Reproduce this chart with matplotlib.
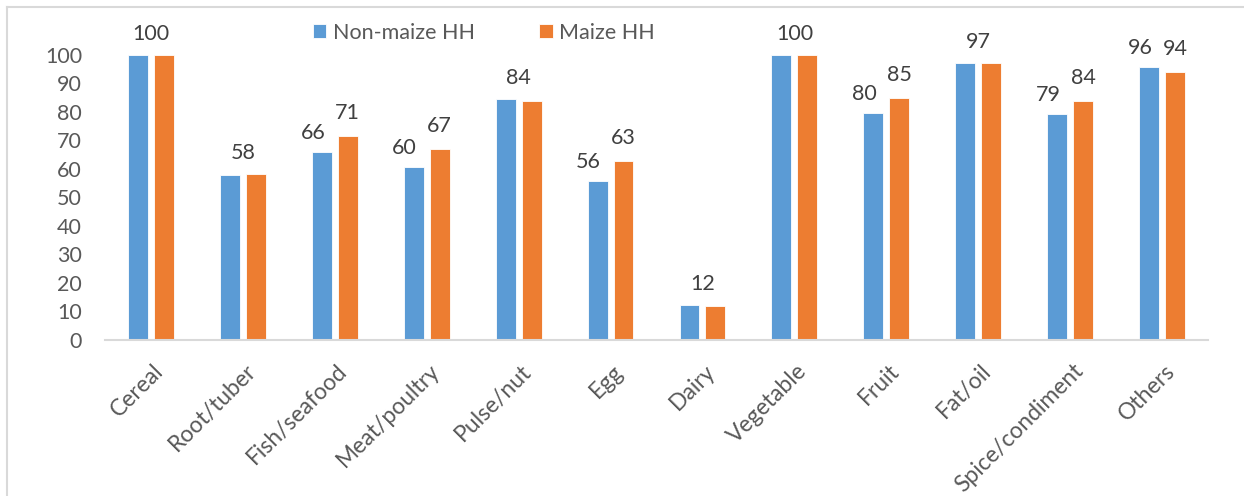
import numpy as np
import matplotlib
matplotlib.use("Agg")
import matplotlib.pyplot as plt
from matplotlib.lines import Line2D
from matplotlib.transforms import ScaledTranslation

plt.rcParams['font.family'] = ['Lato', 'DejaVu Sans']

categories = ["Cereal", "Root/tuber", "Fish/seafood", "Meat/poultry", "Pulse/nut", "Egg",
              "Dairy", "Vegetable", "Fruit", "Fat/oil", "Spice/condiment", "Others"]
non_maize = [100, 57.8, 65.9, 60.5, 84.4, 55.6, 12.1, 100, 79.5, 97.2, 79.2, 95.6]
maize = [100, 58.2, 71.4, 66.9, 83.9, 62.7, 11.9, 100, 84.9, 97.2, 83.7, 93.9]
series_names = ["Non-maize HH", "Maize HH"]
yticks = list(range(0, 101, 10))

BLUE = '#5B9BD5'
ORANGE = '#ED7D31'
TXT = '#595959'
LBL = '#404040'
FS = 15.5

W, H = 1244, 496
fig = plt.figure(figsize=(W / 100, H / 100), dpi=100)
ax = fig.add_axes([105 / W, 1 - 339.5 / H, (1208 - 105) / W, (339.5 - 54.7) / H])

x = np.arange(len(categories))
bw = 0.217
off = 0.141
b1 = ax.bar(x - off, non_maize, bw, color=BLUE, edgecolor='white', linewidth=0.6,
            clip_on=False, label=series_names[0])
b2 = ax.bar(x + off, maize, bw, color=ORANGE, edgecolor='white', linewidth=0.6,
            clip_on=False, label=series_names[1])

ax.set_xlim(-0.5, len(categories) - 0.5)
ax.set_ylim(0, 100)
ax.set_yticks(yticks)
ax.set_yticklabels([str(t) for t in yticks])
for s in ['top', 'right', 'left']:
    ax.spines[s].set_visible(False)
ax.spines['bottom'].set_color('#d9d9d9')
ax.spines['bottom'].set_linewidth(1.5)
ax.tick_params(axis='y', length=0, pad=16.5, labelsize=FS, labelcolor=TXT)
ax.tick_params(axis='x', length=0, pad=15, labelsize=16.5, labelcolor=TXT)
ax.set_xticks(x)
ax.set_xticklabels(categories)
shift = ScaledTranslation(2 / 100, 0, fig.dpi_scale_trans)
for lab in ax.get_xticklabels():
    lab.set_rotation(45)
    lab.set_ha('right')
    lab.set_va('top')
    lab.set_rotation_mode('anchor')
    lab.set_transform(lab.get_transform() + shift)

# data labels
for i in range(len(categories)):
    a, b = non_maize[i], maize[i]
    if round(a) == round(b):
        ax.annotate(f"{round(a)}", xy=(x[i], max(a, b)), xytext=(0, 15),
                    textcoords='offset points', ha='center', va='center',
                    fontsize=FS, color=LBL, annotation_clip=False)
    else:
        ax.annotate(f"{round(a)}", xy=(x[i] - off, a), xytext=(-6.5, 13.5),
                    textcoords='offset points', ha='center', va='center',
                    fontsize=FS, color=LBL, annotation_clip=False)
        ax.annotate(f"{round(b)}", xy=(x[i] + off, b), xytext=(0, 16.5),
                    textcoords='offset points', ha='center', va='center',
                    fontsize=FS, color=LBL, annotation_clip=False)

leg = ax.legend(handles=[b1, b2], ncol=2, frameon=False, loc='center left',
                bbox_to_anchor=(313 / W, 1 - 33 / H), bbox_transform=fig.transFigure,
                fontsize=FS, handlelength=0.62, handleheight=0.62, handletextpad=0.3,
                columnspacing=3.0, borderpad=0, borderaxespad=0)
for t in leg.get_texts():
    t.set_color(TXT)

# chart-area border (cropped)
fig.add_artist(Line2D([7 / W, 7 / W], [0, 1 - 7 / H], transform=fig.transFigure,
                      color='#d9d9d9', lw=1.5))
fig.add_artist(Line2D([7 / W, 1], [1 - 7 / H, 1 - 7 / H], transform=fig.transFigure,
                      color='#d9d9d9', lw=1.5))

fig.savefig('out.png', dpi=100, facecolor='white')
